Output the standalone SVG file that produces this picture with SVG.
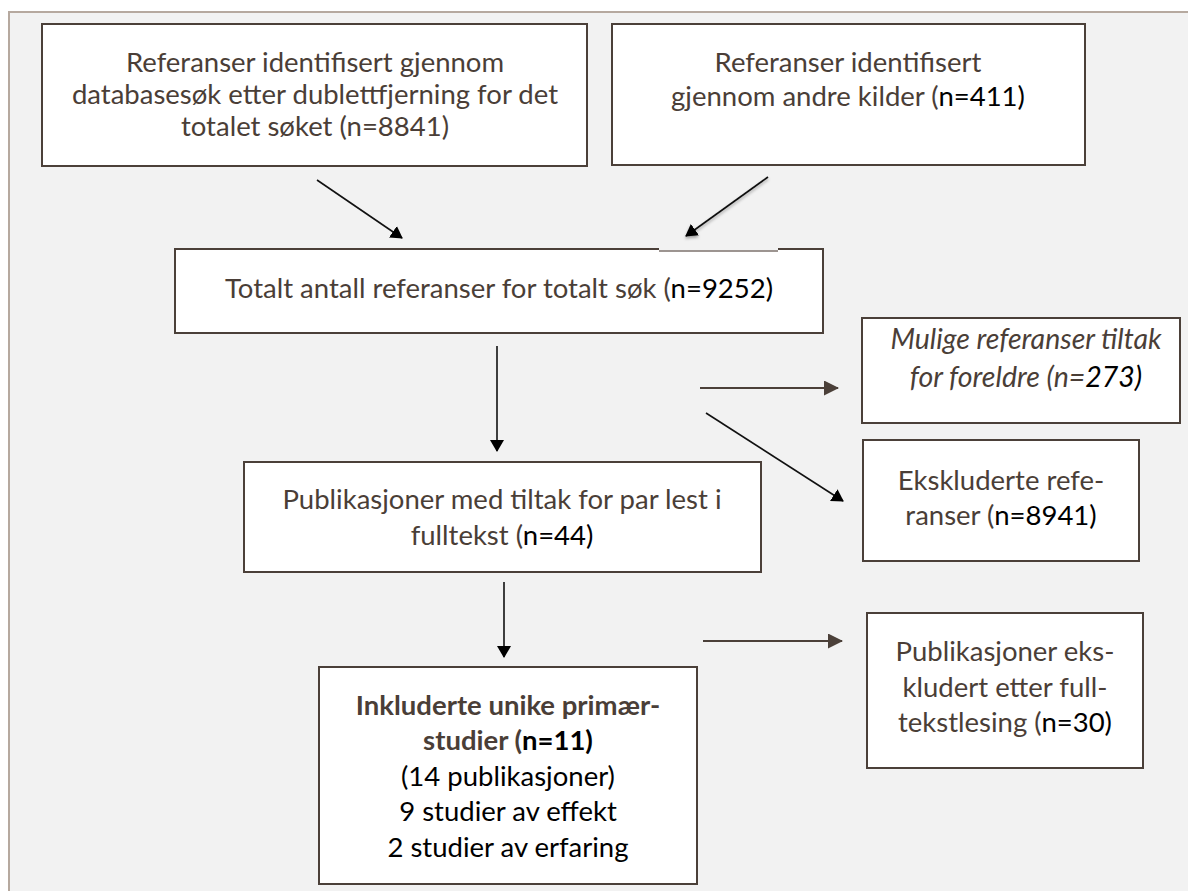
<svg xmlns="http://www.w3.org/2000/svg" width="1188" height="891" viewBox="0 0 1188 891">
<style>
  .box { fill: #ffffff; stroke: #4b4039; stroke-width: 2; }
  .t { font-family: Lato, "Open Sans", sans-serif; font-size: 27.5px; fill: #4a3e37; text-anchor: middle; }
  .k { fill: #000000; }
  .b { font-weight: bold; }
  .i { font-style: italic; font-size: 28.5px; }
  .blk { stroke: #111111; stroke-width: 1.6; fill: none; }
  .brn { stroke: #4b4039; stroke-width: 2.2; fill: none; }
</style>
<defs>
  <marker id="ah" viewBox="0 0 12 14" refX="11" refY="7" markerWidth="12" markerHeight="14" markerUnits="userSpaceOnUse" orient="auto">
    <path d="M0,0 L12,7 L0,14 z" fill="#000000"/>
  </marker>
  <marker id="ahb" viewBox="0 0 15 15" refX="14" refY="7.5" markerWidth="15" markerHeight="15" markerUnits="userSpaceOnUse" orient="auto">
    <path d="M0,0 L15,7.5 L0,15 z" fill="#4b4039"/>
  </marker>
  <filter id="sh" x="-20%" y="-20%" width="140%" height="140%">
    <feDropShadow dx="0" dy="2" stdDeviation="1.5" flood-color="#000000" flood-opacity="0.35"/>
  </filter>
</defs>
<rect x="0" y="0" width="1188" height="891" fill="#ffffff"/>
<rect id="frame" x="9" y="12" width="1200" height="900" fill="#f2f2f2" stroke="#b6a99f" stroke-width="2"/>

<g id="connectors">
  <line class="blk" x1="317" y1="180" x2="402" y2="238" marker-end="url(#ah)"/>
  <line class="blk" x1="768" y1="177" x2="686" y2="236" marker-end="url(#ah)" stroke="#333333" filter="url(#sh)"/>
  <line class="blk" x1="497" y1="346" x2="497" y2="451" marker-end="url(#ah)"/>
  <line class="brn" x1="700" y1="388" x2="838" y2="388" marker-end="url(#ahb)"/>
  <line class="blk" x1="706" y1="413" x2="843" y2="501" marker-end="url(#ah)"/>
  <line class="blk" x1="504" y1="582" x2="504" y2="657" marker-end="url(#ah)"/>
  <line class="brn" x1="703" y1="641" x2="842" y2="641" marker-end="url(#ahb)"/>
</g>

<g id="node1">
  <rect class="box" x="42" y="24" width="545" height="142"/>
  <text class="t" x="315" y="72">Referanser identifisert gjennom</text>
  <text class="t" x="315" y="104">databasesøk etter dublettfjerning for det</text>
  <text class="t" x="315" y="136">totalet søket (n=8841)</text>
</g>

<g id="node2">
  <rect class="box" x="612" y="24" width="473" height="141"/>
  <text class="t" x="848" y="72">Referanser identifisert</text>
  <text class="t" x="848" y="106">gjennom andre kilder (<tspan class="k">n=411)</tspan></text>
</g>

<g id="node3">
  <rect class="box" x="175" y="249" width="648" height="84"/>
  <line x1="659" y1="249" x2="778" y2="249" stroke="#f2f2f2" stroke-width="2.5"/>
  <line x1="659" y1="251" x2="778" y2="251" stroke="#7d726c" stroke-width="1.5"/>
  <text class="t" x="499" y="298">Totalt antall referanser for totalt søk (<tspan class="k">n=9252)</tspan></text>
</g>

<g id="node4">
  <rect class="box" x="862" y="318" width="318" height="105"/>
  <text class="t i" x="1026" y="349">Mulige referanser tiltak</text>
  <text class="t i" x="1026" y="387">for foreldre (n=<tspan class="k">273)</tspan></text>
</g>

<g id="node5">
  <rect class="box" x="863" y="440" width="276" height="121"/>
  <text class="t" x="1001" y="490">Ekskluderte refe-</text>
  <text class="t" x="1001" y="525">ranser (<tspan class="k">n=8941)</tspan></text>
</g>

<g id="node6">
  <rect class="box" x="244" y="462" width="517" height="110"/>
  <text class="t" x="502" y="509">Publikasjoner med tiltak for par lest i</text>
  <text class="t" x="502" y="545">fulltekst (<tspan class="k">n=44)</tspan></text>
</g>

<g id="node7">
  <rect class="box" x="319" y="667" width="378" height="217"/>
  <text class="t b" x="508" y="715">Inkluderte unike primær-</text>
  <text class="t b" x="508" y="750">studier (<tspan class="k">n=11)</tspan></text>
  <text class="t k" x="508" y="786">(14 publikasjoner)</text>
  <text class="t k" x="508" y="821">9 studier av effekt</text>
  <text class="t k" x="508" y="857">2 studier av erfaring</text>
</g>

<g id="node8">
  <rect class="box" x="867" y="613" width="276" height="155"/>
  <text class="t" x="1005" y="661">Publikasjoner eks-</text>
  <text class="t" x="1005" y="697">kludert etter full-</text>
  <text class="t" x="1005" y="732">tekstlesing (<tspan class="k">n=30)</tspan></text>
</g>
</svg>
